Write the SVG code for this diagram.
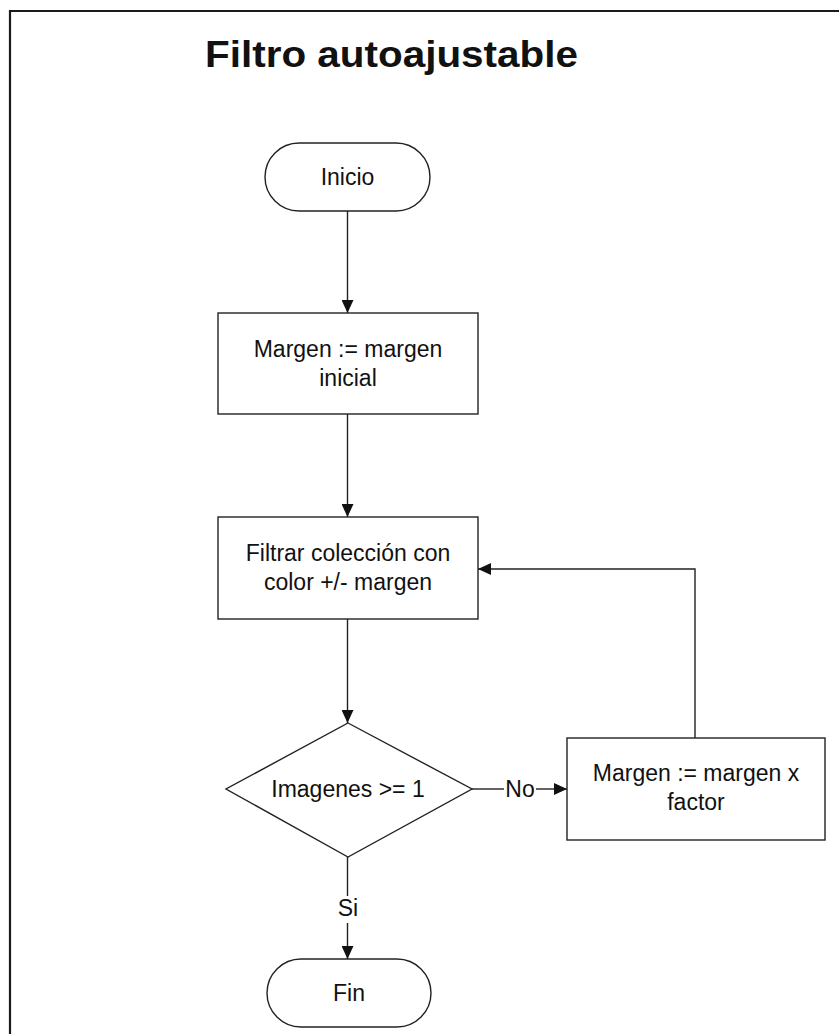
<svg xmlns="http://www.w3.org/2000/svg" width="839" height="1034" viewBox="0 0 839 1034">
  <style>
    .shape { fill: #ffffff; stroke: #222222; stroke-width: 1.4; }
    .edge { fill: none; stroke: #222222; stroke-width: 1.4; }
    .label { font-family: "Liberation Sans", Arial, sans-serif; font-size: 23px; fill: #111111; text-anchor: middle; }
    .title { font-family: "Liberation Sans", Arial, sans-serif; font-size: 37px; font-weight: bold; fill: #111111; }
  </style>
  <defs>
    <marker id="arrow" viewBox="0 0 13 12" refX="13" refY="6" markerWidth="13" markerHeight="12" markerUnits="userSpaceOnUse" orient="auto">
      <path d="M0,0 L13,6 L0,12 Z" fill="#111111"/>
    </marker>
  </defs>

  <rect width="839" height="1034" fill="#ffffff"/>

  <!-- outer frame -->
  <path d="M10,1034 L10,11 L839,11" fill="none" stroke="#1a1a1a" stroke-width="2.2"/>

  <text class="title" x="205" y="67" textLength="373" lengthAdjust="spacingAndGlyphs">Filtro autoajustable</text>

  <g id="connectors">
    <path class="edge" d="M347.5,211 L347.5,313" marker-end="url(#arrow)"/>
    <path class="edge" d="M347.5,414 L347.5,517" marker-end="url(#arrow)"/>
    <path class="edge" d="M347.5,619 L347.5,723" marker-end="url(#arrow)"/>
    <path class="edge" d="M472,789 L504,789"/>
    <path class="edge" d="M536,789 L567,789" marker-end="url(#arrow)"/>
    <text class="label" x="520" y="797">No</text>
    <path class="edge" d="M695,738 L695,569 L478,569" marker-end="url(#arrow)"/>
    <path class="edge" d="M347.5,857 L347.5,896"/>
    <path class="edge" d="M347.5,923 L347.5,959" marker-end="url(#arrow)"/>
    <text class="label" x="348" y="916">Si</text>
  </g>

  <g id="inicio">
    <rect class="shape" x="265" y="143" width="165" height="68" rx="34" ry="34"/>
    <text class="label" x="347.5" y="185">Inicio</text>
  </g>

  <g id="margen-inicial">
    <rect class="shape" x="218" y="313" width="260" height="101"/>
    <text class="label" x="348" y="357">Margen := margen</text>
    <text class="label" x="348" y="386">inicial</text>
  </g>

  <g id="filtrar">
    <rect class="shape" x="218" y="517" width="260" height="102"/>
    <text class="label" x="348" y="561">Filtrar colección con</text>
    <text class="label" x="348" y="590">color +/- margen</text>
  </g>

  <g id="decision">
    <polygon class="shape" points="348,723 472,789 348,857 226,789"/>
    <text class="label" x="348" y="797">Imagenes &gt;= 1</text>
  </g>

  <g id="ajuste-margen">
    <rect class="shape" x="567" y="738" width="258" height="102"/>
    <text class="label" x="696" y="781">Margen := margen x</text>
    <text class="label" x="696" y="810">factor</text>
  </g>

  <g id="fin">
    <rect class="shape" x="267" y="959" width="164" height="68" rx="34" ry="34"/>
    <text class="label" x="349" y="1001">Fin</text>
  </g>
</svg>
